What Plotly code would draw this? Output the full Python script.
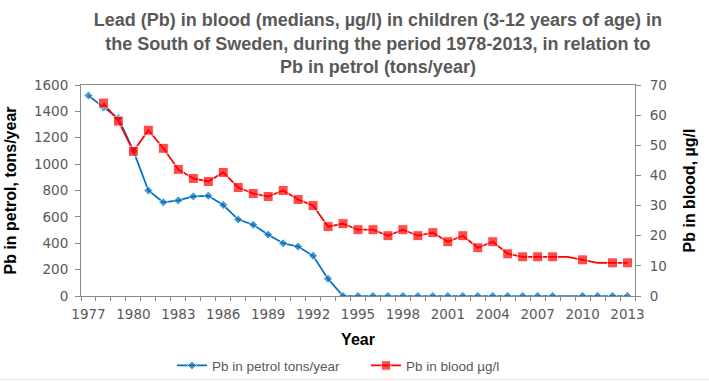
import plotly.graph_objects as go

# ---------------- data ----------------
years = [1977, 1978, 1979, 1980, 1981, 1982, 1983, 1984, 1985, 1986,
         1987, 1988, 1989, 1990, 1991, 1992, 1993, 1994, 1995, 1996,
         1997, 1998, 1999, 2000, 2001, 2002, 2003, 2004, 2005, 2006,
         2007, 2008, 2009, 2010, 2011, 2012, 2013]

pb_petrol_tons = [1520, 1430, 1350, 1100, 800, 710, 725, 755, 760, 690,
                  580, 540, 465, 400, 375, 305, 130, 0, 0, 0,
                  0, 0, 0, 0, 0, 0, 0, 0, 0, 0,
                  0, 0, 0, 0, 0, 0, 0]

pb_blood_ugl = [None, 64, 58, 48, 55, 49, 42, 39, 38, 41,
                36, 34, 33, 35, 32, 30, 23, 24, 22, 22,
                20, 22, 20, 21, 18, 20, 16, 18, 14, 13,
                13, 13, 13, 12, 11, 11, 11]

# years where the line passes but no marker is drawn
petrol_unmarked_years = [2009]
blood_unmarked_years = [2009, 2011]

tick_years = [1977, 1980, 1983, 1986, 1989, 1992, 1995, 1998, 2001, 2004, 2007, 2010, 2013]
tick_labels = ["1977", "1980", "1983", "1986", "1989", "1992", "1995",
               "1998", "2001", "2004", "2007", "2010", "2013"]

left_ticks = [0, 200, 400, 600, 800, 1000, 1200, 1400, 1600]
right_ticks = [0, 10, 20, 30, 40, 50, 60, 70]

title_text = ("<b>Lead (Pb) in blood (medians, µg/l) in children (3-12 years of age) in<br>"
              "the South of Sweden, during the period 1978-2013, in relation to<br>"
              "Pb in petrol (tons/year)</b>")

# ---------------- styles ----------------
BLUE = "#0070C0"
RED = "#FF0000"
GREY_TXT = "#595959"
AXIS = "#898989"
TICK_FONT = dict(family="DejaVu Sans", size=13.5, color=GREY_TXT)
TITLE_FONT = dict(family="Liberation Sans, Arial", size=16, color="#000000")

petrol_sizes = [0 if y in petrol_unmarked_years else 7 for y in years]
blood_sizes = [0 if y in blood_unmarked_years else 10 for y in years]

fig = go.Figure()
fig.add_trace(go.Scatter(
    x=years, y=pb_petrol_tons, name="Pb in petrol tons/year",
    mode="lines+markers",
    line=dict(color=BLUE, width=1.75),
    marker=dict(symbol="diamond", size=petrol_sizes, color=BLUE),
    yaxis="y"))
fig.add_trace(go.Scatter(
    x=years, y=pb_blood_ugl, name="Pb in blood µg/l",
    mode="lines+markers",
    line=dict(color=RED, width=1.75),
    marker=dict(symbol="square", size=blood_sizes, color=RED),
    connectgaps=False,
    yaxis="y2"))

fig.update_layout(
    width=709, height=381,
    margin=dict(l=81, r=74, t=85, b=85),
    paper_bgcolor="white", plot_bgcolor="white",
    title=dict(text=title_text, x=0.533, xanchor="center", xref="container",
               y=0.9306, yanchor="top", yref="container",
               font=dict(family="Liberation Sans, Arial", size=18, color=GREY_TXT)),
    showlegend=True,
    legend=dict(orientation="h", xref="container", yref="container",
                x=0.2426, xanchor="left", y=0.0402, yanchor="middle",
                font=dict(family="Liberation Sans, Arial", size=13.5, color=GREY_TXT),
                bgcolor="rgba(0,0,0,0)", itemwidth=30, entrywidth=149, tracegroupgap=0),
    xaxis=dict(
        range=[1976.5, 2013.5], tickmode="array", tickvals=tick_years, ticktext=tick_labels,
        ticks="", showgrid=False, zeroline=False, automargin=False,
        showline=True, linecolor=AXIS, linewidth=1, mirror=True,
        tickfont=TICK_FONT, ticklabelstandoff=6,
        minor=dict(ticks="outside", tick0=1976.5, dtick=1, ticklen=4, tickcolor=AXIS, showgrid=False),
        title=dict(text="<b>Year</b>", font=TITLE_FONT, standoff=12)),
    yaxis=dict(
        range=[0, 1600], tickmode="array", tickvals=left_ticks,
        ticks="outside", ticklen=5, tickcolor=AXIS, showgrid=False, zeroline=False,
        showline=True, linecolor=AXIS, linewidth=1, automargin=False,
        tickfont=TICK_FONT, ticklabelstandoff=4,
        title=dict(text="<b>Pb in petrol, tons/year</b>", font=TITLE_FONT, standoff=13)),
    yaxis2=dict(
        range=[0, 70], tickmode="array", tickvals=right_ticks, overlaying="y", side="right",
        ticks="outside", ticklen=5, tickcolor=AXIS, showgrid=False, zeroline=False,
        showline=True, linecolor=AXIS, linewidth=1, automargin=False,
        tickfont=TICK_FONT, ticklabelstandoff=6,
        title=dict(text="<b>Pb in blood, µg/l</b>", font=TITLE_FONT, standoff=17)),
    shapes=[dict(type="line", xref="paper", yref="paper", x0=-0.2, x1=1.2,
                 y0=-0.396, y1=-0.396, line=dict(color="#EBEBEB", width=1))],
)

# remove the browser's default 8px body margin so the figure fills the window exactly
fig.write_html("out.html",
               config={"displayModeBar": False},
               post_script="document.body.style.margin='0';document.body.style.overflow='hidden';")
